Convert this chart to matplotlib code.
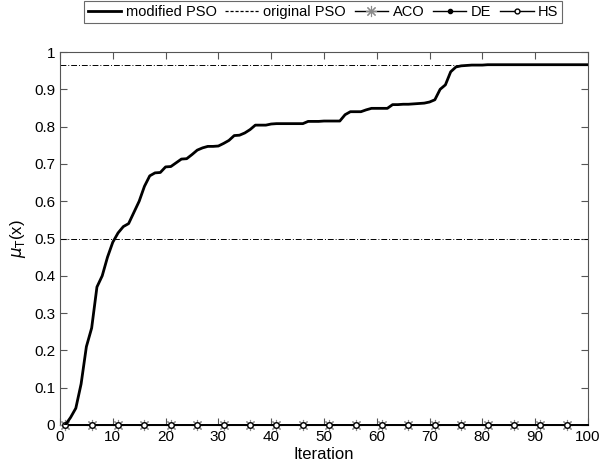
import numpy as np
import matplotlib
matplotlib.use("Agg")
import matplotlib.pyplot as plt
from matplotlib.lines import Line2D

plt.rcParams["font.family"] = ["Liberation Sans", "DejaVu Sans"]

# modified PSO convergence curve
iters = np.arange(1, 101)
mod_pso = [0.0, 0.02, 0.045, 0.11, 0.21, 0.26, 0.37, 0.40, 0.45, 0.49,
           0.515, 0.532, 0.54, 0.57, 0.60, 0.64, 0.668, 0.676, 0.677, 0.692,
           0.693, 0.703, 0.713, 0.714, 0.725, 0.737, 0.743, 0.747, 0.747, 0.748,
           0.755, 0.763, 0.776, 0.777, 0.783, 0.792, 0.804, 0.804, 0.804, 0.807,
           0.808, 0.808, 0.808, 0.808, 0.808, 0.808, 0.814, 0.814, 0.814, 0.815,
           0.815, 0.815, 0.815, 0.832, 0.840, 0.840, 0.840, 0.845, 0.849, 0.849,
           0.849, 0.849, 0.859, 0.859, 0.860, 0.860, 0.861, 0.862, 0.863, 0.866,
           0.872, 0.900, 0.912, 0.947, 0.960, 0.963, 0.964, 0.965, 0.965, 0.965,
           0.966, 0.966, 0.966, 0.966, 0.966, 0.966, 0.966, 0.966, 0.966, 0.966,
           0.966, 0.966, 0.966, 0.966, 0.966, 0.966, 0.966, 0.966, 0.966, 0.966]
aco = np.zeros(100)
de = np.zeros(100)
hs = np.zeros(100)
ref_levels = [0.966, 0.5]

fig = plt.figure(figsize=(6.01, 4.73), dpi=100)
ax = fig.add_axes([0.0998, 0.1015, 0.8785, 0.7885])

for lv in ref_levels:
    ax.axhline(lv, color="black", ls=(0, (6, 2, 1, 2)), lw=0.7)

star = (8, 2, 0)
ax.plot(iters, aco, color="black", lw=1.2, marker=star, ms=8, mfc="#8a8a8a",
        mec="#8a8a8a", mew=0.8, markevery=5, clip_on=False, zorder=3)
ax.plot(iters, de, color="black", lw=1.2, marker="o", ms=3, mfc="black",
        markevery=5, clip_on=False, zorder=3)
ax.plot(iters, hs, color="black", lw=1.2, marker="o", ms=4, mfc="white",
        mec="black", mew=1, markevery=5, clip_on=False, zorder=3)
ax.plot(iters, mod_pso, color="black", lw=2, zorder=4)

ax.set_xlim(0, 100)
ax.set_ylim(0, 1)
ax.set_xticks(np.arange(0, 101, 10))
ax.set_yticks(np.arange(0, 1.01, 0.1))
ax.set_yticklabels(["0", "0.1", "0.2", "0.3", "0.4", "0.5", "0.6", "0.7", "0.8", "0.9", "1"])
ax.tick_params(direction="in", top=True, right=True, length=5, labelsize=11,
               color="#555555")
for s in ax.spines.values():
    s.set_color("#555555")
    s.set_linewidth(0.8)
ax.set_xlabel("Iteration", fontsize=12, labelpad=2)
ax.set_ylabel(r"$\mu_{\mathrm{T}}$(x)", fontsize=12, labelpad=4)

handles = [
    Line2D([], [], color="black", lw=2),
    Line2D([], [], color="black", lw=0.9, ls=(0, (2.5, 1.5))),
    Line2D([], [], color="black", lw=1, marker=star, ms=8, mfc="#8a8a8a", mec="#8a8a8a", mew=0.8),
    Line2D([], [], color="black", lw=1, marker="o", ms=3, mfc="black"),
    Line2D([], [], color="black", lw=1, marker="o", ms=3.5, mfc="white", mec="black"),
]
labels = ["modified PSO", "original PSO", "ACO", "DE", "HS"]
leg = fig.legend(handles, labels, loc="upper center", bbox_to_anchor=(0.5375, 0.997),
                 ncol=5, fontsize=10.5, frameon=True, fancybox=False,
                 edgecolor="#444444", handlelength=2.3, columnspacing=0.6,
                 handletextpad=0.3, borderpad=0.25, borderaxespad=0.0)
leg.get_frame().set_linewidth(0.8)

fig.savefig("out.png", dpi=100)
